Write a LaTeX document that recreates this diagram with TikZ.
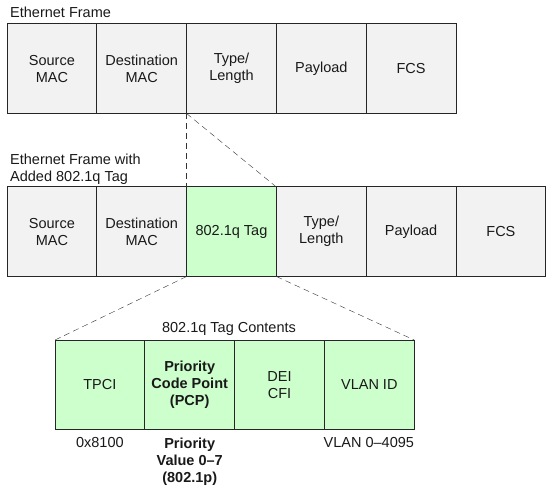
\documentclass[tikz,border=0pt]{standalone}
\usepackage{fontspec}
\setmainfont{Liberation Sans}
\usetikzlibrary{positioning}
\definecolor{fieldgray}{HTML}{F2F2F2}
\definecolor{taggreen}{HTML}{CCFFCC}
\begin{document}
\begin{tikzpicture}[x=1pt,y=-1pt,
  txt/.style={inner sep=0pt,font=\fontsize{14.5}{17}\selectfont,text=black!90},
  field/.style={txt,draw=black!85,line width=1pt,fill=fieldgray,minimum width=89.8pt,
    minimum height=89.5pt,outer sep=0pt,align=center},
  tagfield/.style={field,fill=taggreen},
  link/.style={draw=black!80,dash pattern=on 6pt off 4pt}]
\useasboundingbox (0,0) rectangle (547,492);
% plain frame
\node[txt,anchor=base west] (title1) at (10,18) {Ethernet Frame};
\node[field,anchor=north west] (src1) at (7,24) {Source\\MAC};
\node[field,right=0pt of src1] (dst1) {Destination\\MAC};
\node[field,right=0pt of dst1] (type1) {Type/\\Length};
\node[field,right=0pt of type1] (pay1) {Payload};
\node[field,right=0pt of pay1] (fcs1) {FCS};
% tagged frame
\node[txt,align=left,anchor=south west,inner sep=2pt] (title2) at (8,187) {Ethernet Frame with\\Added 802.1q Tag};
\node[field,anchor=north west] (src2) at (7,187) {Source\\MAC};
\node[field,right=0pt of src2] (dst2) {Destination\\MAC};
\node[tagfield,right=0pt of dst2] (tag2) {802.1q Tag};
\node[field,right=0pt of tag2] (type2) {Type/\\Length};
\node[field,right=0pt of type2] (pay2) {Payload};
\node[field,right=0pt of pay2] (fcs2) {FCS};
% tag contents
\node[txt,anchor=base] (title3) at (229,333) {802.1q Tag Contents};
\node[tagfield,anchor=north west] (tpci) at (55,340) {TPCI};
\node[tagfield,right=0pt of tpci,font=\fontsize{14.5}{17}\selectfont\bfseries] (pcp) {Priority\\Code Point\\(PCP)};
\node[tagfield,right=0pt of pcp] (dei) {DEI\\CFI};
\node[tagfield,right=0pt of dei] (vid) {VLAN ID};
\node[txt,below=8pt of tpci] (tpcival) {0x8100};
\node[txt,align=center,below=8pt of pcp,font=\fontsize{14.5}{17}\selectfont\bfseries] (pcpval) {Priority\\Value 0--7\\(802.1p)};
\node[txt,below left=8pt and 0pt of vid.south east] (vidval) {VLAN 0--4095};
% zoom lines
\draw[link] (type1.south west) -- (tag2.north west);
\draw[link] (type1.south west) -- (tag2.north east);
\draw[link] (tag2.south west) -- (tpci.north west);
\draw[link] (tag2.south east) -- (vid.north east);
\end{tikzpicture}
\end{document}
